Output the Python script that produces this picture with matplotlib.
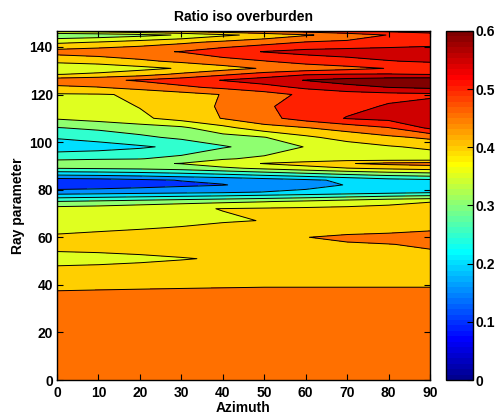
import numpy as np
import matplotlib
matplotlib.use("Agg")
from matplotlib import pyplot as plt
from matplotlib.colors import ListedColormap, Normalize
from matplotlib.cm import ScalarMappable

azimuth = [0, 10, 20, 30, 40, 50, 60, 70, 80, 90]
ray_param = [0, 30, 45, 51, 57, 60, 64, 67, 72, 75, 79, 82, 84, 89, 91, 93,
             98, 102, 106, 110, 115, 120, 123, 126, 128.5, 131, 134, 138,
             142, 145, 146.7]
# one row per ray parameter, one column per azimuth
ratio = [
    [0.470, 0.470, 0.470, 0.470, 0.470, 0.475, 0.475, 0.475, 0.480, 0.480],
    [0.470, 0.472, 0.474, 0.476, 0.478, 0.480, 0.480, 0.480, 0.480, 0.480],
    [0.430, 0.430, 0.430, 0.430, 0.430, 0.430, 0.430, 0.430, 0.430, 0.430],
    [0.370, 0.378, 0.388, 0.397, 0.405, 0.415, 0.425, 0.432, 0.438, 0.440],
    [0.430, 0.430, 0.430, 0.430, 0.432, 0.435, 0.440, 0.445, 0.449, 0.455],
    [0.405, 0.410, 0.415, 0.420, 0.430, 0.440, 0.449, 0.460, 0.465, 0.470],
    [0.390, 0.393, 0.397, 0.402, 0.410, 0.415, 0.420, 0.425, 0.430, 0.440],
    [0.380, 0.382, 0.385, 0.390, 0.396, 0.401, 0.405, 0.410, 0.415, 0.420],
    [0.370, 0.375, 0.385, 0.395, 0.401, 0.405, 0.408, 0.410, 0.410, 0.410],
    [0.302, 0.310, 0.320, 0.330, 0.340, 0.348, 0.360, 0.375, 0.390, 0.399],
    [0.170, 0.175, 0.180, 0.185, 0.190, 0.201, 0.210, 0.220, 0.230, 0.240],
    [0.115, 0.120, 0.130, 0.140, 0.148, 0.165, 0.183, 0.202, 0.215, 0.220],
    [0.125, 0.130, 0.140, 0.152, 0.160, 0.175, 0.190, 0.210, 0.230, 0.240],
    [0.301, 0.305, 0.310, 0.320, 0.340, 0.360, 0.380, 0.398, 0.410, 0.420],
    [0.330, 0.335, 0.340, 0.352, 0.380, 0.402, 0.420, 0.447, 0.462, 0.470],
    [0.290, 0.295, 0.298, 0.315, 0.345, 0.360, 0.365, 0.370, 0.370, 0.370],
    [0.220, 0.228, 0.243, 0.262, 0.295, 0.320, 0.352, 0.375, 0.395, 0.410],
    [0.255, 0.270, 0.290, 0.310, 0.330, 0.348, 0.390, 0.420, 0.440, 0.460],
    [0.298, 0.310, 0.325, 0.340, 0.385, 0.430, 0.448, 0.470, 0.498, 0.560],
    [0.355, 0.370, 0.390, 0.420, 0.452, 0.485, 0.520, 0.553, 0.565, 0.575],
    [0.370, 0.380, 0.402, 0.430, 0.455, 0.495, 0.515, 0.535, 0.555, 0.570],
    [0.395, 0.397, 0.405, 0.430, 0.452, 0.480, 0.510, 0.525, 0.535, 0.540],
    [0.440, 0.448, 0.470, 0.490, 0.510, 0.530, 0.560, 0.585, 0.600, 0.610],
    [0.480, 0.490, 0.505, 0.525, 0.552, 0.575, 0.602, 0.620, 0.630, 0.635],
    [0.398, 0.410, 0.430, 0.460, 0.490, 0.520, 0.545, 0.552, 0.553, 0.548],
    [0.365, 0.370, 0.385, 0.405, 0.430, 0.455, 0.470, 0.485, 0.502, 0.520],
    [0.410, 0.420, 0.440, 0.460, 0.480, 0.498, 0.520, 0.535, 0.548, 0.555],
    [0.470, 0.480, 0.490, 0.502, 0.530, 0.552, 0.565, 0.570, 0.573, 0.575],
    [0.390, 0.402, 0.420, 0.440, 0.460, 0.480, 0.502, 0.510, 0.520, 0.530],
    [0.310, 0.320, 0.335, 0.355, 0.390, 0.415, 0.445, 0.470, 0.502, 0.520],
    [0.410, 0.420, 0.440, 0.460, 0.480, 0.502, 0.520, 0.540, 0.560, 0.580],
]
levels = [0.05, 0.1, 0.15, 0.2, 0.25, 0.3, 0.35, 0.4, 0.45, 0.5, 0.55, 0.6, 0.65]
cmin, cmax = 0.0, 0.6


def matlab_jet(n=64):
    # same steps as MATLAB's jet(64)
    i = np.arange(1, n + 1)
    q = n / 8
    r = np.interp(i, [3 * q, 5 * q, 7 * q, n], [0, 1, 1, 0.5])
    g = np.interp(i, [q, 3 * q, 5 * q, 7 * q], [0, 1, 1, 0])
    b = np.interp(i, [0, q, 3 * q, 5 * q], [0.5, 1, 1, 0])
    return ListedColormap(np.column_stack([r, g, b]))


def main():
    plt.rcParams["font.family"] = ["Liberation Sans", "DejaVu Sans"]
    plt.rcParams["font.weight"] = "bold"
    plt.rcParams["font.size"] = 10

    cmap = matlab_jet(64)
    norm = Normalize(cmin, cmax)
    fills = [cmap(norm(lv)) for lv in levels[:-1]]

    X, Y = np.meshgrid(azimuth, ray_param)
    Z = np.array(ratio)

    fig = plt.figure(figsize=(4.97, 4.17), dpi=100)
    ax = fig.add_axes([57 / 497, 37 / 417, 373 / 497, 349 / 417])
    ax.contourf(X, Y, Z, levels=levels, colors=fills)
    ax.contour(X, Y, Z, levels=levels, colors="k", linewidths=0.7)

    ax.set_xlim(0, 90)
    ax.set_ylim(0, 146.7)
    ax.set_xticks(range(0, 91, 10))
    ax.set_yticks(range(0, 141, 20))
    ax.tick_params(direction="in", top=True, right=True, length=4, width=0.8)
    ax.tick_params(axis="x", pad=4)
    ax.tick_params(axis="y", pad=3)
    for s in ax.spines.values():
        s.set_linewidth(1.0)
    ax.set_xlabel("Azimuth", fontweight="bold", labelpad=1)
    ax.set_ylabel("Ray parameter", fontweight="bold", labelpad=3)
    ax.set_title("Ratio iso overburden", fontweight="bold", fontsize=10, pad=7)

    cax = fig.add_axes([446 / 497, 37 / 417, 27 / 497, 349 / 417])
    cb = fig.colorbar(ScalarMappable(norm=norm, cmap=cmap), cax=cax)
    cb.set_ticks([0, 0.1, 0.2, 0.3, 0.4, 0.5, 0.6])
    cb.set_ticklabels(["0", "0.1", "0.2", "0.3", "0.4", "0.5", "0.6"])
    cax.tick_params(direction="in", length=4, width=0.8, pad=2)
    cb.outline.set_linewidth(1.0)

    fig.savefig("out.png", dpi=100)


if __name__ == "__main__":
    main()
